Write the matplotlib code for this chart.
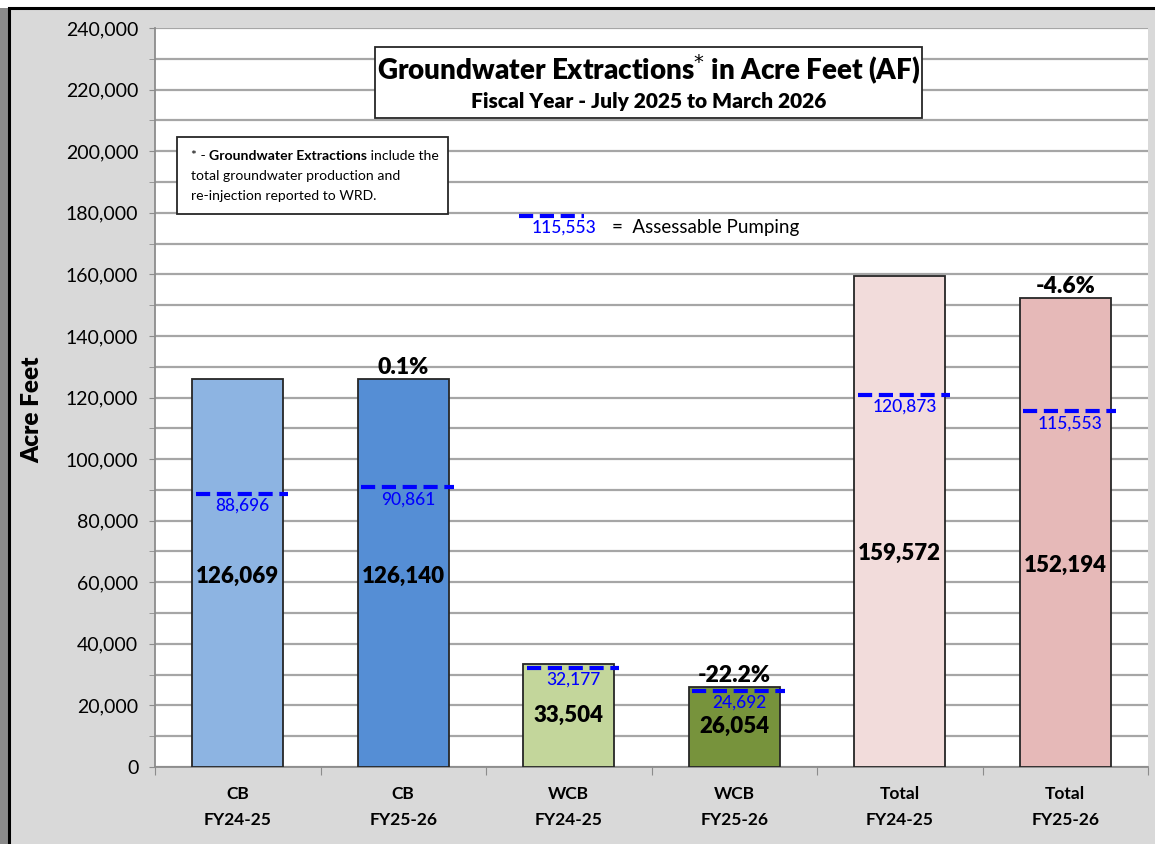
import matplotlib
matplotlib.use("Agg")
import matplotlib.pyplot as plt
from matplotlib.patches import Rectangle
from matplotlib.ticker import MultipleLocator, FuncFormatter

# ---- data ----
categories = ["CB\nFY24-25", "CB\nFY25-26", "WCB\nFY24-25", "WCB\nFY25-26", "Total\nFY24-25", "Total\nFY25-26"]
extractions = [126069, 126140, 33504, 26054, 159572, 152194]
assessable = [88696, 90861, 32177, 24692, 120873, 115553]
pct_change = ["", "0.1%", "", "-22.2%", "", "-4.6%"]
legend_value = 115553

bar_colors = ["#8DB4E2", "#558ED5", "#C3D69B", "#77933C", "#F2DCDB", "#E6B9B8"]
label_frac = [0.49, 0.49, 0.5, 0.5, 0.435, 0.43]

plt.rcParams['font.family'] = ['Lato', 'DejaVu Sans']

fig = plt.figure(figsize=(11.55, 8.44), dpi=100)
fig.patch.set_facecolor("white")
# background frame
fig.patches.append(Rectangle((0, 0), 9/1155, 1 - 8/844, transform=fig.transFigure,
                             facecolor="#8a8a8a", edgecolor="none", zorder=-2))
fig.patches.append(Rectangle((9/1155, -0.01), 1.0, 1 - 8/844 + 0.01, transform=fig.transFigure,
                             facecolor="#d9d9d9", edgecolor="black", linewidth=2.2, zorder=-1))

ax = fig.add_axes([155/1155, 1 - 767/844, 993/1155, 739/844])
ax.set_facecolor("white")

x = list(range(len(categories)))
w = 0.55
ax.bar(x, extractions, width=w, color=bar_colors, edgecolor="#262626", linewidth=1.3, zorder=3)

ax.set_xlim(-0.5, 5.5)
ax.set_ylim(0, 240000)
ax.yaxis.set_major_locator(MultipleLocator(20000))
ax.yaxis.set_minor_locator(MultipleLocator(10000))
ax.yaxis.set_major_formatter(FuncFormatter(lambda v, p: f"{int(v):,}"))
ax.grid(axis="y", which="both", color="#a6a6a6", linewidth=1.6, zorder=0)
ax.tick_params(axis="y", which="both", direction="out", length=4, color="#8c8c8c", labelsize=14, pad=8)
ax.set_xticks([i - 0.5 for i in range(len(categories) + 1)], minor=False)
ax.set_xticklabels([])
ax.set_xticks(x, minor=True)
ax.set_xticklabels(categories, minor=True, fontsize=12.5, fontweight="bold", linespacing=1.75)
ax.tick_params(axis="x", which="major", direction="out", length=6, color="#8c8c8c")
ax.tick_params(axis="x", which="minor", length=0, pad=14)
for s in ["top", "right"]:
    ax.spines[s].set_visible(False)
for s in ["left", "bottom"]:
    ax.spines[s].set_color("#8c8c8c")
    ax.spines[s].set_linewidth(1.3)

ax.set_ylabel("Acre Feet", fontsize=17.5, fontweight="heavy")
ax.yaxis.set_label_coords(-0.112, 0.483)

# value labels, assessable lines, pct labels
for i, (v, a, pc) in enumerate(zip(extractions, assessable, pct_change)):
    ax.text(i, v * label_frac[i], f"{v:,}", ha="center", va="center", fontsize=16,
            fontweight="heavy", zorder=5)
    ax.plot([i - w / 2 + 0.02, i + w / 2 + 0.03], [a, a], color="#0000FF", linewidth=3,
            dashes=(3.4, 1.6), zorder=6, solid_capstyle="butt")
    ax.text(i + 0.03, a - 1300, f"{a:,}", ha="center", va="top", fontsize=12.5, color="#0000FF",
            fontweight="medium", zorder=6)
    if pc:
        ax.text(i, v + 300, pc, ha="center", va="bottom", fontsize=16.5, fontweight="heavy", zorder=5)

# legend for assessable pumping
ax.plot([1.70, 2.09], [179000, 179000], color="#0000FF", linewidth=3, dashes=(3.4, 1.6),
        zorder=6, solid_capstyle="butt")
ax.text(1.97, 177800, f"{legend_value:,}", ha="center", va="top", fontsize=12.5, color="#0000FF",
        fontweight="medium", zorder=6)
ax.text(2.26, 175200, "=  Assessable Pumping", ha="left", va="center", fontsize=13.5, zorder=6)

# title box
ax.add_patch(Rectangle((0.2216, 0.8782), 0.5508, 0.0961, transform=ax.transAxes,
                       facecolor="white", edgecolor="#262626", linewidth=1.3, zorder=7))
ax.text(0.497, 0.943, r"Groundwater Extractions$^{*}$ in Acre Feet (AF)", transform=ax.transAxes,
        ha="center", va="center", fontsize=20, fontweight="heavy", zorder=8)
ax.text(0.497, 0.9005, "Fiscal Year - July 2025 to March 2026", transform=ax.transAxes,
        ha="center", va="center", fontsize=15, fontweight="heavy", zorder=8)

# footnote box
ax.add_patch(Rectangle((0.0222, 0.7483), 0.2724, 0.1042, transform=ax.transAxes,
                       facecolor="white", edgecolor="#262626", linewidth=1.3, zorder=7))
fs = 10.1
t1 = ax.text(0.036, 0.827, "* - ", transform=ax.transAxes, ha="left", va="center", fontsize=fs, zorder=8)
t2 = ax.annotate("Groundwater Extractions", xy=(1, 0), xycoords=t1, ha="left", va="bottom",
                 fontsize=fs, fontweight="bold", zorder=8)
ax.annotate(" include the", xy=(1, 0), xycoords=t2, ha="left", va="bottom", fontsize=fs, zorder=8)
ax.text(0.036, 0.800, "total groundwater production and", transform=ax.transAxes, ha="left",
        va="center", fontsize=fs, zorder=8)
ax.text(0.036, 0.773, "re-injection reported to WRD.", transform=ax.transAxes, ha="left",
        va="center", fontsize=fs, zorder=8)

fig.savefig("out.png", dpi=100, facecolor=fig.get_facecolor())
